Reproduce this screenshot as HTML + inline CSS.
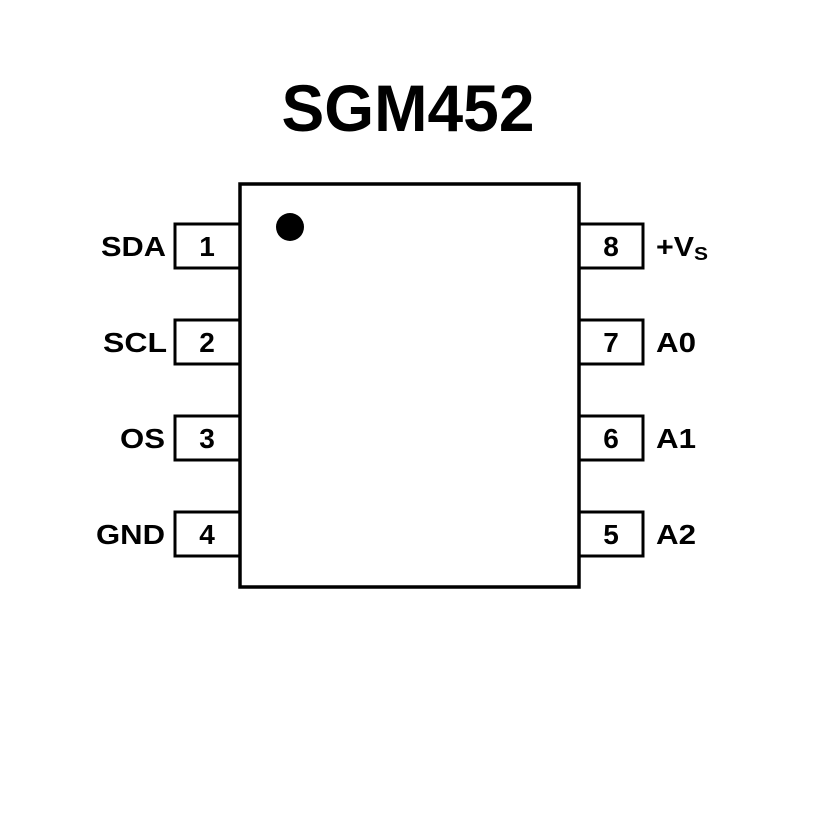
<!DOCTYPE html>
<html><head><meta charset="utf-8"><style>html,body{margin:0;padding:0;background:#fff}</style></head>
<body>
<svg width="827" height="827" viewBox="0 0 827 827" xmlns="http://www.w3.org/2000/svg" font-family="Liberation Sans, sans-serif" font-weight="bold" fill="#000">
<text x="408" y="131" font-size="66" text-anchor="middle" textLength="253" lengthAdjust="spacingAndGlyphs">SGM452</text>
<g fill="none" stroke="#000" stroke-width="3">
<rect x="240" y="184" width="339" height="403" stroke-width="3.5"/>
<rect x="175" y="224" width="65" height="44"/>
<rect x="175" y="320" width="65" height="44"/>
<rect x="175" y="416" width="65" height="44"/>
<rect x="175" y="512" width="65" height="44"/>
<rect x="579" y="224" width="64" height="44"/>
<rect x="579" y="320" width="64" height="44"/>
<rect x="579" y="416" width="64" height="44"/>
<rect x="579" y="512" width="64" height="44"/>
</g>
<circle cx="290" cy="227" r="14"/>
<g font-size="28" text-anchor="middle">
<text x="207" y="256">1</text><text x="207" y="352">2</text><text x="207" y="448">3</text><text x="207" y="544">4</text>
<text x="611" y="256">8</text><text x="611" y="352">7</text><text x="611" y="448">6</text><text x="611" y="544">5</text>
</g>
<g font-size="28">
<text x="101" y="256" textLength="65" lengthAdjust="spacingAndGlyphs">SDA</text>
<text x="103" y="352" textLength="64" lengthAdjust="spacingAndGlyphs">SCL</text>
<text x="120" y="448" textLength="45" lengthAdjust="spacingAndGlyphs">OS</text>
<text x="96" y="544" textLength="69" lengthAdjust="spacingAndGlyphs">GND</text>
</g>
<g font-size="28">
<text x="656" y="256" textLength="38" lengthAdjust="spacingAndGlyphs">+V</text><text x="694" y="260" font-size="18" textLength="14" lengthAdjust="spacingAndGlyphs">S</text>
<text x="656" y="352" textLength="40" lengthAdjust="spacingAndGlyphs">A0</text>
<text x="656" y="448" textLength="40" lengthAdjust="spacingAndGlyphs">A1</text>
<text x="656" y="544" textLength="40" lengthAdjust="spacingAndGlyphs">A2</text>
</g>
</svg>
</body></html>
